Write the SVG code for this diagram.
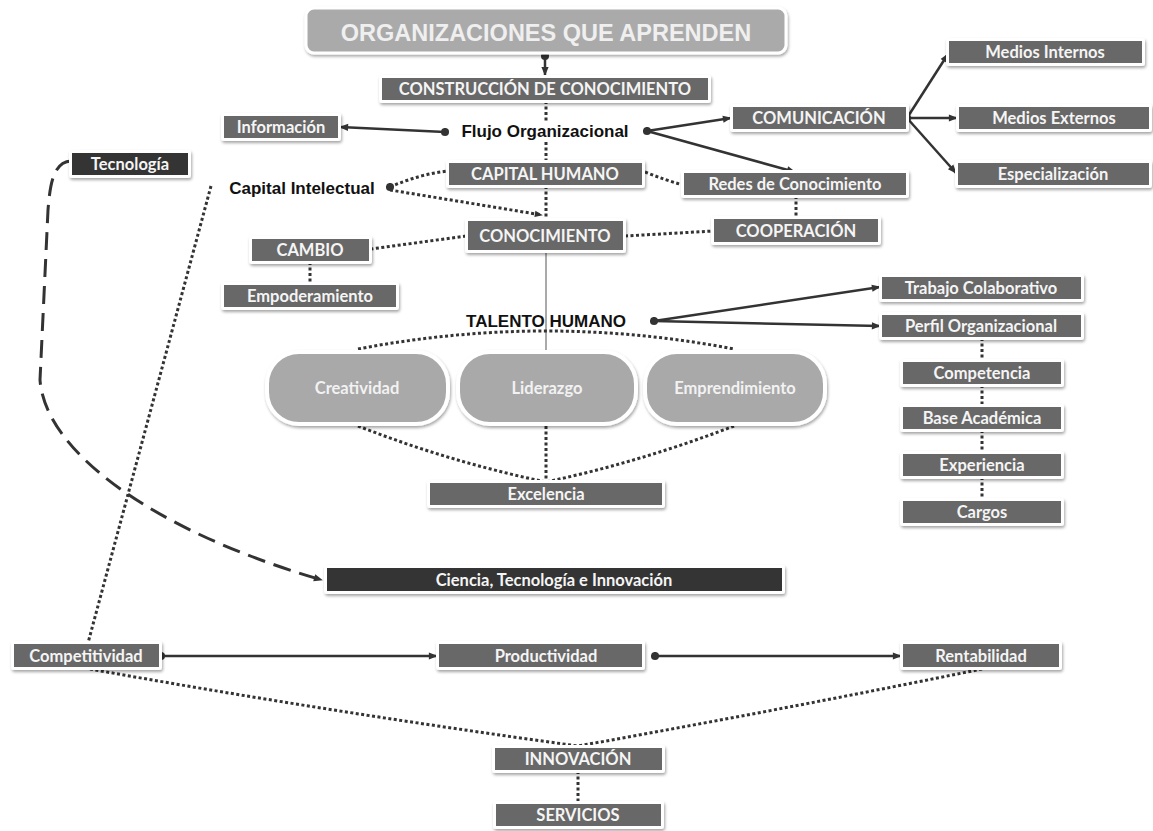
<svg xmlns="http://www.w3.org/2000/svg" width="1153" height="831" viewBox="0 0 1153 831">
<defs>
<filter id="sh" x="-10%" y="-30%" width="120%" height="170%"><feDropShadow dx="1" dy="2" stdDeviation="1.5" flood-color="#000" flood-opacity="0.35"/></filter>
<marker id="arr" viewBox="0 0 10 10" refX="9" refY="5" markerWidth="10" markerHeight="9" markerUnits="userSpaceOnUse" orient="auto"><path d="M0,1 L10,5 L0,9 z" fill="#333"/></marker>
<marker id="arrs" viewBox="0 0 10 10" refX="9" refY="5" markerWidth="9" markerHeight="8" markerUnits="userSpaceOnUse" orient="auto"><path d="M0,1 L10,5 L0,9 z" fill="#333"/></marker>
<marker id="dot" viewBox="0 0 10 10" refX="5" refY="5" markerWidth="9" markerHeight="9" markerUnits="userSpaceOnUse"><circle cx="5" cy="5" r="4.5" fill="#333"/></marker>
</defs>
<style>
.fr{fill:#fff;filter:url(#sh)}
.bx{fill:#686868}
.dk{fill:#343434}
.pl{fill:#a9a9a9;stroke:#fff;stroke-width:4;filter:url(#sh)}
.t{font-family:Lato,"Open Sans",sans-serif;font-weight:bold;font-size:16.5px;fill:#f5f5f5;text-anchor:middle}
.tp{font-family:Lato,"Open Sans",sans-serif;font-weight:bold;font-size:16.5px;fill:#f2f2f2;text-anchor:middle}
.tb{font-family:"Liberation Sans",Arial,sans-serif;font-weight:bold;font-size:17px;fill:#111;text-anchor:middle}
.s{fill:none;stroke:#333;stroke-width:2.5}
.d{fill:none;stroke:#333;stroke-width:3;stroke-dasharray:3 2.5}
.thin{fill:none;stroke:#555;stroke-width:1}
.ds{fill:none;stroke:#333;stroke-width:3;stroke-dasharray:18 9}
</style>
<rect width="1153" height="831" fill="#fff"/>
<g id="connectors">
<path class="s" d="M545 56 L545 75" marker-start="url(#dot)" marker-end="url(#arr)"/>
<path class="d" d="M546 101 L546 121"/>
<path class="d" d="M546 142 L546 162"/>
<path class="d" d="M546 186 L546 220"/>
<path class="s" d="M445 132 L340 127" marker-start="url(#dot)" marker-end="url(#arr)"/>
<path class="s" d="M647 131 L731 118" marker-start="url(#dot)" marker-end="url(#arr)"/>
<path class="s" d="M647 131 L795 172" marker-end="url(#arr)"/>
<path class="s" d="M907 118 L948 54" marker-start="url(#dot)" marker-end="url(#arr)"/>
<path class="s" d="M907 118 L957 118" marker-end="url(#arr)"/>
<path class="s" d="M907 118 L956 173" marker-end="url(#arr)"/>
<path class="d" d="M390 187 Q420 174 448 171" marker-start="url(#dot)"/>
<path class="d" d="M390 190 L542 215" marker-end="url(#arrs)"/>
<path class="d" d="M645 172 Q665 180 683 185"/>
<path class="d" d="M796 196 L796 218"/>
<path class="d" d="M466 236 L371 249"/>
<path class="d" d="M625 236 L713 231"/>
<path class="d" d="M310 262 L310 284"/>
<path class="thin" d="M546 251 L546 351"/>
<path class="s" d="M654 321 L880 287" marker-start="url(#dot)" marker-end="url(#arr)"/>
<path class="s" d="M654 321 L880 326" marker-end="url(#arr)"/>
<path class="d" d="M982 338 L982 361"/>
<path class="d" d="M982 385 L982 406"/>
<path class="d" d="M982 430 L982 453"/>
<path class="d" d="M982 477 L982 500"/>
<path class="d" d="M358 349 Q546 313 734 349"/>
<path class="d" d="M358 426 Q450 462 546 482"/>
<path class="d" d="M546 426 L546 482"/>
<path class="d" d="M734 426 Q640 462 546 482"/>
<path class="ds" d="M71 161 C53 162 50 185 48 210 L40 380 C45 450 150 530 322 580" marker-end="url(#arr)"/>
<path class="d" d="M211 186 L88 643"/>
<path class="s" d="M161 656 L437 656" marker-start="url(#dot)" marker-end="url(#arr)"/>
<path class="s" d="M655 656 L901 656" marker-start="url(#dot)" marker-end="url(#arr)"/>
<path class="d" d="M90 669 Q330 712 578 746"/>
<path class="d" d="M982 669 Q780 710 578 746"/>
<path class="d" d="M578 771 L578 803"/>
</g>
<g id="title"><rect x="306" y="8" width="480" height="45" rx="8" fill="#aaa" stroke="#fff" stroke-width="3" filter="url(#sh)"/><text x="546" y="41" font-family="'Liberation Sans',Arial,sans-serif" font-weight="bold" font-size="23.5" fill="#efefef" text-anchor="middle">ORGANIZACIONES QUE APRENDEN</text></g>
<g id="construccion"><rect class="fr" x="379" y="75" width="332" height="28" rx="3"/><rect class="bx" x="382" y="78" width="326" height="22"/><text class="t" x="545" y="95">CONSTRUCCIÓN DE CONOCIMIENTO</text></g>
<g id="informacion"><rect class="fr" x="221" y="113" width="120" height="28" rx="3"/><rect class="bx" x="224" y="116" width="114" height="22"/><text class="t" x="281" y="133">Información</text></g>
<g id="flujo"><text class="tb" x="545" y="137">Flujo Organizacional</text></g>
<g id="comunicacion"><rect class="fr" x="730" y="104" width="179" height="28" rx="3"/><rect class="bx" x="733" y="107" width="173" height="22"/><text class="t" x="819" y="124">COMUNICACIÓN</text></g>
<g id="medios_internos"><rect class="fr" x="946" y="38" width="199" height="28" rx="3"/><rect class="bx" x="949" y="41" width="193" height="22"/><text class="t" x="1045" y="58">Medios Internos</text></g>
<g id="medios_externos"><rect class="fr" x="956" y="104" width="196" height="28" rx="3"/><rect class="bx" x="959" y="107" width="190" height="22"/><text class="t" x="1054" y="124">Medios Externos</text></g>
<g id="especializacion"><rect class="fr" x="955" y="160" width="197" height="28" rx="3"/><rect class="bx" x="958" y="163" width="191" height="22"/><text class="t" x="1053" y="180">Especialización</text></g>
<g id="tecnologia"><rect class="fr" x="69" y="150" width="122" height="28" rx="3"/><rect class="dk" x="72" y="153" width="116" height="22"/><text class="t" x="130" y="170">Tecnología</text></g>
<g id="capital_intelectual"><text class="tb" x="302" y="194">Capital Intelectual</text></g>
<g id="capital_humano"><rect class="fr" x="446" y="160" width="199" height="28" rx="3"/><rect class="bx" x="449" y="163" width="193" height="22"/><text class="t" x="545" y="180">CAPITAL HUMANO</text></g>
<g id="redes"><rect class="fr" x="681" y="170" width="228" height="28" rx="3"/><rect class="bx" x="684" y="173" width="222" height="22"/><text class="t" x="795" y="190">Redes de Conocimiento</text></g>
<g id="conocimiento"><rect class="fr" x="465" y="218" width="161" height="35" rx="3"/><rect class="bx" x="468" y="221" width="155" height="29"/><text class="t" x="545" y="242">CONOCIMIENTO</text></g>
<g id="cooperacion"><rect class="fr" x="711" y="216" width="170" height="29" rx="3"/><rect class="bx" x="714" y="219" width="164" height="23"/><text class="t" x="796" y="237">COOPERACIÓN</text></g>
<g id="cambio"><rect class="fr" x="249" y="236" width="123" height="28" rx="3"/><rect class="bx" x="252" y="239" width="117" height="22"/><text class="t" x="310" y="256">CAMBIO</text></g>
<g id="empoderamiento"><rect class="fr" x="221" y="282" width="178" height="28" rx="3"/><rect class="bx" x="224" y="285" width="172" height="22"/><text class="t" x="310" y="302">Empoderamiento</text></g>
<g id="talento"><text class="tb" x="546" y="327">TALENTO HUMANO</text></g>
<g id="trabajo"><rect class="fr" x="879" y="274" width="205" height="28" rx="3"/><rect class="bx" x="882" y="277" width="199" height="22"/><text class="t" x="981" y="294">Trabajo Colaborativo</text></g>
<g id="perfil"><rect class="fr" x="879" y="312" width="205" height="28" rx="3"/><rect class="bx" x="882" y="315" width="199" height="22"/><text class="t" x="981" y="332">Perfil Organizacional</text></g>
<g id="competencia"><rect class="fr" x="900" y="359" width="164" height="28" rx="3"/><rect class="bx" x="903" y="362" width="158" height="22"/><text class="t" x="982" y="379">Competencia</text></g>
<g id="base"><rect class="fr" x="900" y="404" width="164" height="28" rx="3"/><rect class="bx" x="903" y="407" width="158" height="22"/><text class="t" x="982" y="424">Base Académica</text></g>
<g id="experiencia"><rect class="fr" x="900" y="451" width="164" height="28" rx="3"/><rect class="bx" x="903" y="454" width="158" height="22"/><text class="t" x="982" y="471">Experiencia</text></g>
<g id="cargos"><rect class="fr" x="900" y="498" width="164" height="28" rx="3"/><rect class="bx" x="903" y="501" width="158" height="22"/><text class="t" x="982" y="518">Cargos</text></g>
<g id="creatividad"><rect class="pl" x="267" y="352" width="181" height="72" rx="32"/><text class="tp" x="357" y="394">Creatividad</text></g>
<g id="liderazgo"><rect class="pl" x="458" y="352" width="178" height="72" rx="32"/><text class="tp" x="547" y="394">Liderazgo</text></g>
<g id="emprendimiento"><rect class="pl" x="645" y="352" width="180" height="72" rx="32"/><text class="tp" x="735" y="394">Emprendimiento</text></g>
<g id="excelencia"><rect class="fr" x="427" y="480" width="238" height="28" rx="3"/><rect class="bx" x="430" y="483" width="232" height="22"/><text class="t" x="546" y="500">Excelencia</text></g>
<g id="ciencia"><rect class="fr" x="324" y="565" width="461" height="29" rx="3"/><rect class="dk" x="327" y="568" width="455" height="23"/><text class="t" x="554" y="586">Ciencia, Tecnología e Innovación</text></g>
<g id="competitividad"><rect class="fr" x="11" y="641" width="151" height="29" rx="3"/><rect class="bx" x="14" y="644" width="145" height="23"/><text class="t" x="86" y="662">Competitividad</text></g>
<g id="productividad"><rect class="fr" x="436" y="641" width="209" height="29" rx="3"/><rect class="bx" x="439" y="644" width="203" height="23"/><text class="t" x="546" y="662">Productividad</text></g>
<g id="rentabilidad"><rect class="fr" x="900" y="641" width="162" height="29" rx="3"/><rect class="bx" x="903" y="644" width="156" height="23"/><text class="t" x="981" y="662">Rentabilidad</text></g>
<g id="innovacion"><rect class="fr" x="492" y="745" width="173" height="28" rx="3"/><rect class="bx" x="495" y="748" width="167" height="22"/><text class="t" x="578" y="765">INNOVACIÓN</text></g>
<g id="servicios"><rect class="fr" x="493" y="801" width="171" height="28" rx="3"/><rect class="bx" x="496" y="804" width="165" height="22"/><text class="t" x="578" y="821">SERVICIOS</text></g>
</svg>
